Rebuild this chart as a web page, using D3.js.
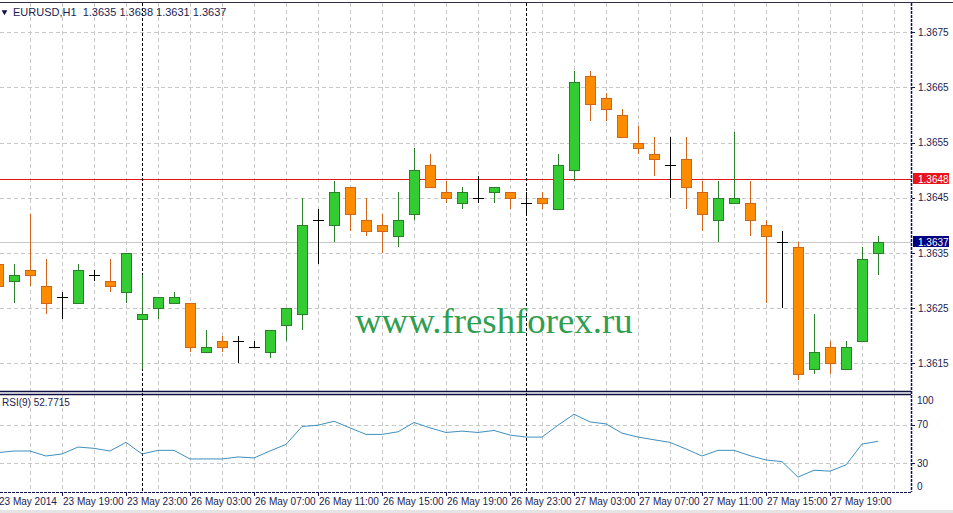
<!DOCTYPE html>
<html>
<head>
<meta charset="utf-8">
<script src="https://cdn.jsdelivr.net/npm/d3@7"></script>
<style>
    body { margin: 0; background: #fff; }
    text { font-family: 'Liberation Sans', Arial, sans-serif; }
</style>
</head>
<body>
<div id="chart"></div>
<script>
// EURUSD H1 candles, 23 May 15:00 .. 27 May 22:00
const symbol = 'EURUSD,H1';
const open = [1.3633, 1.3630, 1.3632, 1.3629, 1.3627, 1.3626, 1.3631, 1.3630, 1.3628, 1.3623,
    1.3625, 1.3626, 1.3626, 1.3617, 1.3619, 1.3619, 1.3618, 1.3617, 1.3622, 1.3624,
    1.3641, 1.3640, 1.3647, 1.3641, 1.3640, 1.3638, 1.3642, 1.3651, 1.3646, 1.3644,
    1.3645, 1.3646, 1.3646, 1.3644, 1.3645, 1.3643, 1.3650, 1.3667, 1.3663, 1.3660,
    1.3655, 1.3653, 1.3651, 1.3652, 1.3646, 1.3641, 1.3644, 1.3644, 1.3640, 1.3637,
    1.3636, 1.3614, 1.3618, 1.3614, 1.3619, 1.3635];
const high = [1.3634, 1.3633, 1.3642, 1.3634, 1.3628, 1.3633, 1.3632, 1.3634, 1.3635, 1.3631,
    1.3627, 1.3628, 1.3626, 1.3621, 1.3620, 1.3620, 1.3619, 1.3621, 1.3625, 1.3645,
    1.3643, 1.3648, 1.3647, 1.3645, 1.3642, 1.3646, 1.3654, 1.3653, 1.3648, 1.3647,
    1.3649, 1.3647, 1.3646, 1.3646, 1.3646, 1.3653, 1.3668, 1.3668, 1.3664, 1.3661,
    1.3658, 1.3656, 1.3656, 1.3656, 1.3648, 1.3648, 1.3657, 1.3648, 1.3641, 1.3639,
    1.3637, 1.3624, 1.3619, 1.3619, 1.3636, 1.3638];
const low = [1.3628, 1.3626, 1.3629, 1.3624, 1.3623, 1.3626, 1.3630, 1.3628, 1.3626, 1.3614,
    1.3623, 1.3626, 1.3617, 1.3617, 1.3617, 1.3615, 1.3618, 1.3616, 1.3619, 1.3621,
    1.3633, 1.3637, 1.3639, 1.3638, 1.3635, 1.3636, 1.3641, 1.3647, 1.3644, 1.3643,
    1.3644, 1.3644, 1.3643, 1.3642, 1.3643, 1.3643, 1.3648, 1.3659, 1.3659, 1.3656,
    1.3653, 1.3649, 1.3645, 1.3643, 1.3639, 1.3637, 1.3644, 1.3638, 1.3626, 1.3625,
    1.3612, 1.3613, 1.3613, 1.3614, 1.3619, 1.3631];
const close = [1.3629, 1.3631, 1.3631, 1.3626, 1.3627, 1.3632, 1.3631, 1.3629, 1.3635, 1.3624,
    1.3627, 1.3627, 1.3618, 1.3618, 1.3618, 1.3619, 1.3618, 1.3621, 1.3625, 1.3640,
    1.3641, 1.3646, 1.3642, 1.3639, 1.3639, 1.3641, 1.3650, 1.3647, 1.3645, 1.3646,
    1.3645, 1.3647, 1.3645, 1.3644, 1.3644, 1.3651, 1.3666, 1.3662, 1.3661, 1.3656,
    1.3654, 1.3652, 1.3651, 1.3647, 1.3642, 1.3645, 1.3645, 1.3641, 1.3638, 1.3637,
    1.3613, 1.3617, 1.3615, 1.3618, 1.3634, 1.3637];
const rsi = [41.0, 42.7, 42.7, 37.5, 39.6, 46.8, 45.5, 42.7, 51.7, 39.6,
    43.4, 43.4, 34.4, 34.4, 34.4, 36.5, 35.5, 42.7, 49.6, 68.2,
    69.6, 73.7, 66.8, 60.0, 60.0, 62.7, 72.4, 66.8, 62.0, 63.4,
    62.0, 64.1, 59.3, 57.2, 57.2, 69.6, 81.0, 73.0, 70.9, 61.3,
    57.2, 54.4, 51.7, 44.8, 37.5, 43.4, 43.4, 37.8, 33.4, 31.6,
    15.5, 22.7, 21.7, 28.2, 49.9, 52.8];
const rsiLabel = 'RSI(9) 52.7715';

// time axis labels (bar index -> text)
const timeTickIndex = [0, 4, 8, 12, 16, 20, 24, 28, 32, 36, 40, 44, 48, 52];
const timeTickLabels = ['23 May 2014', '23 May 19:00', '23 May 23:00', '26 May 03:00', '26 May 07:00',
    '26 May 11:00', '26 May 15:00', '26 May 19:00', '26 May 23:00', '27 May 03:00',
    '27 May 07:00', '27 May 11:00', '27 May 15:00', '27 May 19:00'];
const daySeparators = [9, 33];

const priceTicks = [1.3615, 1.3625, 1.3635, 1.3645, 1.3655, 1.3665, 1.3675];
const rsiTicks = [0, 30, 70, 100];
const rsiGrid = [30, 70];
const levelLine = 1.36484;

const width = 953,
    height = 513;
const plotRight = 911;
const mainTop = 3, mainBottom = 391;
const rsiTop = 394, rsiBottom = 492;

const textColor = '#1c1c50';
const gridColor = '#c8c8c8';

const svg = d3.select('#chart').append('svg')
    .attr('width', width)
    .attr('height', height)
    .style('display', 'block');

svg.append('rect').attr('width', width).attr('height', height).attr('fill', '#fff');

// scales
const x = d3.scaleLinear().domain([0, 57]).range([-2, 910]);
const y = d3.scaleLinear().domain([1.3610, 1.3680]).range([391, 4.6]);
const ry = d3.scaleLinear().domain([0, 100]).range([rsiBottom, 396]);

const fmt = d3.format('.4f');

// vertical grid (every other bar), both panes
const vGrid = d3.range(0, 57, 2);
[[mainTop, mainBottom], [rsiTop, rsiBottom]].forEach(function (pane) {
    svg.append('g').selectAll('line')
        .data(vGrid)
        .enter().append('line')
        .attr('x1', d => Math.round(x(d)) + 0.5)
        .attr('x2', d => Math.round(x(d)) + 0.5)
        .attr('y1', pane[0])
        .attr('y2', pane[1])
        .attr('stroke', gridColor)
        .attr('stroke-dasharray', '4,3');
});

// horizontal grid main pane
svg.append('g').selectAll('line')
    .data(priceTicks)
    .enter().append('line')
    .attr('x1', 0).attr('x2', plotRight)
    .attr('y1', d => Math.round(y(d)) + 0.5)
    .attr('y2', d => Math.round(y(d)) + 0.5)
    .attr('stroke', gridColor)
    .attr('stroke-dasharray', '4,3');

// horizontal grid rsi pane
svg.append('g').selectAll('line')
    .data(rsiGrid)
    .enter().append('line')
    .attr('x1', 0).attr('x2', plotRight)
    .attr('y1', d => Math.round(ry(d)) + 0.5)
    .attr('y2', d => Math.round(ry(d)) + 0.5)
    .attr('stroke', gridColor)
    .attr('stroke-dasharray', '4,3');

// bid line
const lastClose = close[close.length - 1];
svg.append('line')
    .attr('x1', 0).attr('x2', plotRight)
    .attr('y1', Math.round(y(lastClose)) + 0.5)
    .attr('y2', Math.round(y(lastClose)) + 0.5)
    .attr('stroke', '#c8c8c8');

// horizontal level line
svg.append('line')
    .attr('x1', 0).attr('x2', plotRight)
    .attr('y1', Math.round(y(levelLine)) + 0.5)
    .attr('y2', Math.round(y(levelLine)) + 0.5)
    .attr('stroke', '#e01515');

// day separators
svg.append('g').selectAll('line')
    .data(daySeparators)
    .enter().append('line')
    .attr('x1', d => Math.round(x(d)) + 0.5)
    .attr('x2', d => Math.round(x(d)) + 0.5)
    .attr('y1', mainTop)
    .attr('y2', rsiBottom)
    .attr('stroke', '#000')
    .attr('stroke-dasharray', '3,2');

// candles
const bars = d3.range(open.length);
const upFill = '#33cc33', upLine = '#2b7f2b';
const downFill = '#ff8c00', downLine = '#d2651a';

function barColor(i) {
    if (close[i] > open[i]) return upLine;
    if (close[i] < open[i]) return downLine;
    return '#000';
}

const candles = svg.append('g');

candles.selectAll('.wick')
    .data(bars)
    .enter().append('line')
    .attr('class', 'wick')
    .attr('x1', d => Math.round(x(d)) + 0.5)
    .attr('x2', d => Math.round(x(d)) + 0.5)
    .attr('y1', d => Math.round(y(high[d])))
    .attr('y2', d => Math.round(y(low[d])))
    .attr('stroke', d => barColor(d));

candles.selectAll('.body')
    .data(bars.filter(d => open[d] !== close[d]))
    .enter().append('rect')
    .attr('class', 'body')
    .attr('x', d => Math.round(x(d)) - 4.5)
    .attr('width', 10)
    .attr('y', d => Math.round(y(Math.max(open[d], close[d]))) + 0.5)
    .attr('height', d => Math.max(1, Math.round(y(Math.min(open[d], close[d]))) - Math.round(y(Math.max(open[d], close[d])))))
    .attr('fill', d => close[d] > open[d] ? upFill : downFill)
    .attr('stroke', d => barColor(d));

candles.selectAll('.doji')
    .data(bars.filter(d => open[d] === close[d]))
    .enter().append('line')
    .attr('class', 'doji')
    .attr('x1', d => Math.round(x(d)) - 5)
    .attr('x2', d => Math.round(x(d)) + 6)
    .attr('y1', d => Math.round(y(close[d])) + 0.5)
    .attr('y2', d => Math.round(y(close[d])) + 0.5)
    .attr('stroke', '#000');

// watermark
svg.append('text')
    .attr('x', 355)
    .attr('y', 333)
    .attr('fill', '#2f9e50')
    .style('font-family', "'Liberation Serif', 'Times New Roman', serif")
    .style('font-size', '36.8px')
    .text('www.freshforex.ru');

// rsi line
const rsiLine = d3.line()
    .x((d, i) => x(i))
    .y(d => ry(d));

svg.append('path')
    .datum(rsi)
    .attr('d', rsiLine)
    .attr('fill', 'none')
    .attr('stroke', '#3f8fbf')
    .attr('stroke-width', 1);

// pane borders
svg.append('line').attr('x1', 0).attr('x2', width).attr('y1', 2.5).attr('y2', 2.5).attr('stroke', '#303040');
svg.append('line').attr('x1', 0).attr('x2', plotRight).attr('y1', mainBottom + 0.5).attr('y2', mainBottom + 0.5)
    .attr('stroke', '#101040').attr('stroke-width', 1.5);
svg.append('line').attr('x1', 0).attr('x2', plotRight).attr('y1', rsiTop + 0.5).attr('y2', rsiTop + 0.5)
    .attr('stroke', '#101040').attr('stroke-width', 1.5);
svg.append('line').attr('x1', 0).attr('x2', plotRight).attr('y1', rsiBottom + 0.5).attr('y2', rsiBottom + 0.5)
    .attr('stroke', '#101050').attr('stroke-dasharray', '3,1');
svg.append('line').attr('x1', plotRight + 0.5).attr('x2', plotRight + 0.5).attr('y1', mainTop).attr('y2', rsiBottom)
    .attr('stroke', '#101060').attr('stroke-width', 1.5).attr('stroke-dasharray', '3,1');

// price axis
const priceAxis = svg.append('g');
priceAxis.selectAll('line')
    .data(priceTicks)
    .enter().append('line')
    .attr('x1', plotRight + 1).attr('x2', plotRight + 4)
    .attr('y1', d => Math.round(y(d)) + 0.5)
    .attr('y2', d => Math.round(y(d)) + 0.5)
    .attr('stroke', textColor);
priceAxis.selectAll('text')
    .data(priceTicks)
    .enter().append('text')
    .attr('x', 918)
    .attr('y', d => y(d))
    .attr('dy', '0.35em')
    .attr('fill', textColor)
    .style('font-size', '10px')
    .text(d => fmt(d));

// price markers
function priceMarker(value, color) {
    const yy = Math.round(y(value));
    svg.append('rect')
        .attr('x', 913).attr('y', yy - 6)
        .attr('width', 36).attr('height', 11)
        .attr('fill', color);
    svg.append('text')
        .attr('x', 918).attr('y', yy)
        .attr('dy', '0.35em')
        .attr('fill', '#fff')
        .style('font-size', '10px')
        .text(fmt(value));
}
priceMarker(levelLine, '#e8141c');
priceMarker(lastClose, '#000080');

// rsi axis
const rsiAxis = svg.append('g');
rsiAxis.selectAll('line')
    .data(rsiGrid)
    .enter().append('line')
    .attr('x1', plotRight + 1).attr('x2', plotRight + 4)
    .attr('y1', d => Math.round(ry(d)) + 0.5)
    .attr('y2', d => Math.round(ry(d)) + 0.5)
    .attr('stroke', textColor);
rsiAxis.selectAll('text')
    .data(rsiTicks)
    .enter().append('text')
    .attr('x', 917)
    .attr('y', d => ry(d) + (d === 100 ? 4 : d === 0 ? -6 : 0))
    .attr('dy', '0.35em')
    .attr('fill', textColor)
    .style('font-size', '10px')
    .text(d => d);

// time axis
const timeAxis = svg.append('g');
timeAxis.selectAll('line')
    .data(timeTickIndex)
    .enter().append('line')
    .attr('x1', d => Math.round(x(d)) + 0.5)
    .attr('x2', d => Math.round(x(d)) + 0.5)
    .attr('y1', rsiBottom + 1).attr('y2', rsiBottom + 4)
    .attr('stroke', textColor);
timeAxis.selectAll('text')
    .data(timeTickIndex)
    .enter().append('text')
    .attr('x', d => x(d) + 1)
    .attr('y', 505)
    .attr('fill', textColor)
    .style('font-size', '10px')
    .text((d, i) => timeTickLabels[i]);

svg.append('rect').attr('x', 0).attr('y', 510).attr('width', width).attr('height', 3).attr('fill', '#e4e4e4');

// header
svg.append('path')
    .attr('d', d3.symbol().type(d3.symbolTriangle).size(14)())
    .attr('transform', 'translate(4.5,12) rotate(180)')
    .attr('fill', '#101040');
const n = close.length - 1;
svg.append('text')
    .attr('x', 13).attr('y', 16)
    .attr('fill', textColor)
    .style('font-size', '11px')
    .style('white-space', 'pre')
    .text(symbol + '  ' + [open[n], high[n], low[n], close[n]].map(fmt).join(' '));

// rsi caption
svg.append('text')
    .attr('x', 2).attr('y', 405.5)
    .attr('fill', textColor)
    .style('font-size', '10px')
    .text(rsiLabel);
</script>
</body>
</html>
